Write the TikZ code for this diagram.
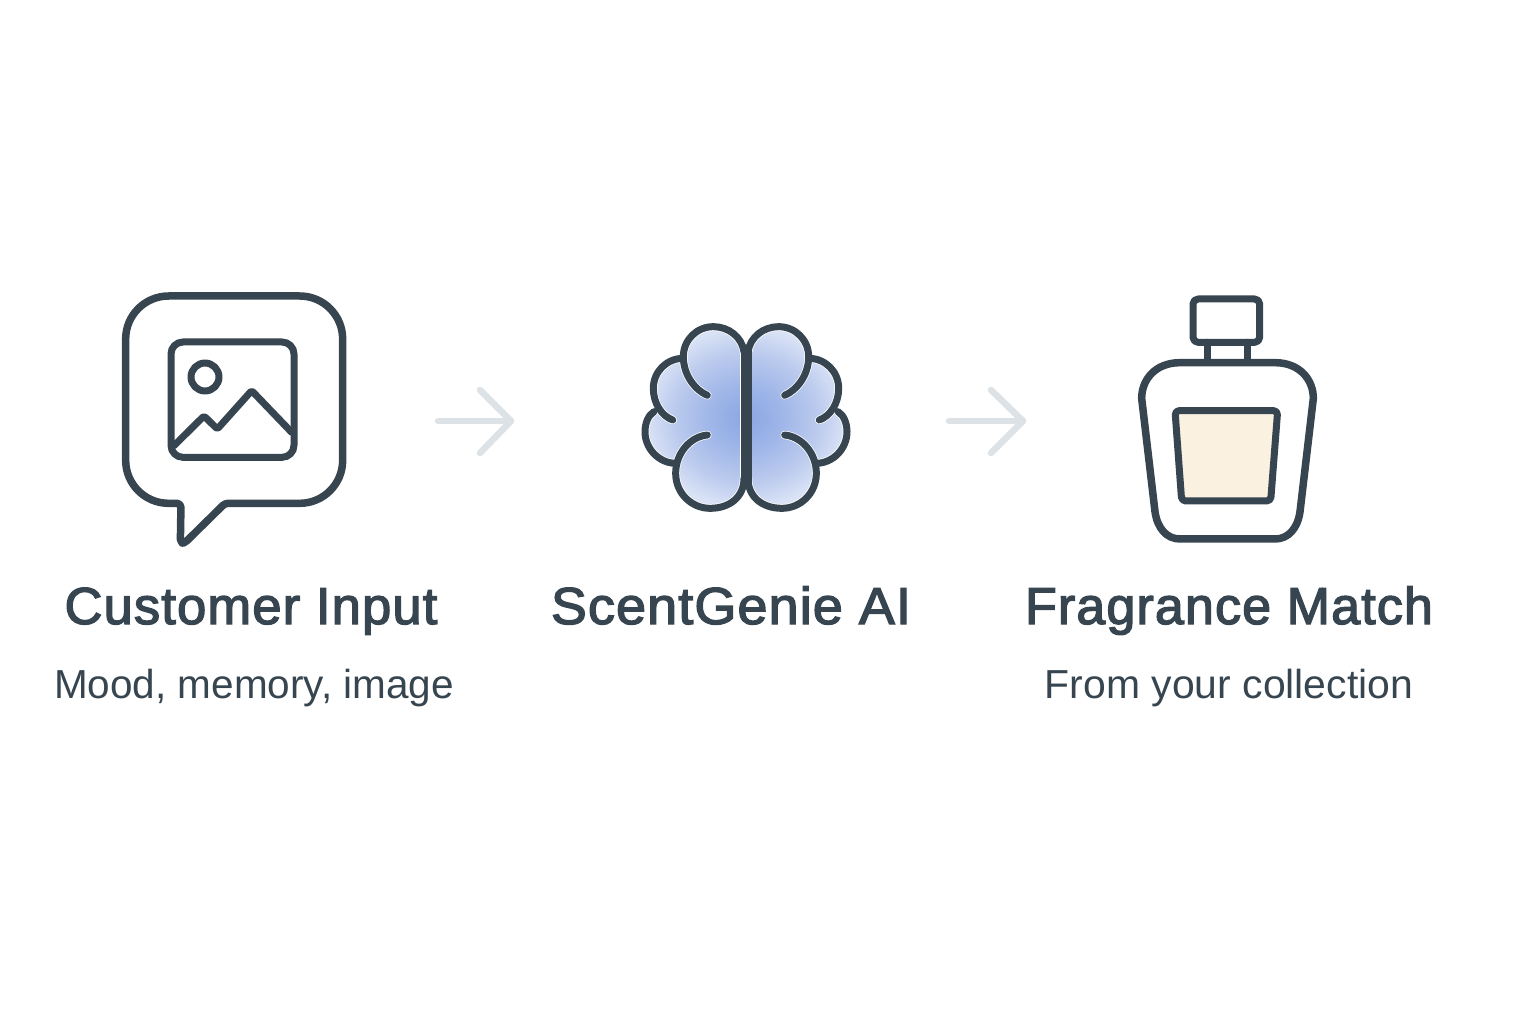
\documentclass[tikz,border=0pt]{standalone}
\usepackage{fontspec}
\setmainfont{Liberation Sans}
\newfontfamily\titlefont[FakeBold=2.6,LetterSpace=2.2]{Liberation Sans}
\newfontfamily\subfont{Liberation Sans}
\definecolor{ink}{HTML}{36454F}
\definecolor{pale}{HTML}{DCE2E6}
\definecolor{cream}{HTML}{FBF1E0}
\definecolor{bluea}{HTML}{8AA6E3}
\definecolor{blueb}{HTML}{9FB6E8}
\definecolor{bluec}{HTML}{BCCBEE}
\definecolor{blued}{HTML}{DAE3F6}
\pgfdeclareradialshading{brainglow}{\pgfpointorigin}{
  color(0bp)=(bluea); color(9bp)=(blueb); color(18bp)=(bluec); color(25bp)=(blued); color(50bp)=(blued)}
\tikzset{
  iconline/.style={draw=ink,line width=#1,line join=round,line cap=round},
  iconline/.default=7pt,
  halo/.style={draw=white,line width=8.5pt,line cap=round},
  flowarrow/.style={draw=pale,line width=6.5pt,line cap=round,line join=round},
  title/.style={text=ink,anchor=base,inner sep=0pt,font=\titlefont\fontsize{52}{56}\selectfont},
  subtitle/.style={text=ink,anchor=base,inner sep=0pt,font=\subfont\fontsize{40.5}{44}\selectfont},
  zoomA/.style={shift={(110,280)},xscale=1/3,yscale=1/3},
  zoomB/.style={shift={(630,310)},xscale=1/3,yscale=1/3},
  zoomC/.style={shift={(1125,285)},xscale=1/3,yscale=1/3},
}
\newcommand{\brainstrokes}[1]{%
  \draw[#1] (342,125) -- (342,520);
  \draw[#1] (342,125) .. controls (335,80) and (295,50) .. (250,50) .. controls (200,50) and (160,90) .. (160,140) .. controls (160,195) and (195,240) .. (232,256);
  \draw[#1] (160,145) .. controls (110,145) and (70,185) .. (70,235) .. controls (70,280) and (95,318) .. (128,330);
  \draw[#1] (72,305) .. controls (55,315) and (45,340) .. (45,365) .. controls (45,415) and (85,458) .. (135,460);
  \draw[#1] (232,375) .. controls (180,380) and (137,430) .. (137,490) .. controls (137,550) and (185,595) .. (240,595) .. controls (300,595) and (342,560) .. (342,505);
}
\begin{document}
\begin{tikzpicture}[x=1pt,y=-1pt]
\useasboundingbox (0,0) rectangle (1536,1024);
% speech bubble
\begin{scope}[zoomA]
  \draw[iconline=7.5pt,rounded corners=43pt] (370,48) -- (698,48) -- (698,670) [rounded corners=3pt] -- (345,670) -- (225,788) [rounded corners=4pt] -- (211,790) -- (213,670) [rounded corners=43pt] -- (47,670) -- (47,48) -- cycle;
  \draw[iconline,rounded corners=12pt] (360,186) -- (552,186) -- (552,532) -- (183,532) -- (183,186) -- cycle;
  \draw[iconline] (285,291) circle[radius=42];
  \draw[iconline,rounded corners=2pt] (192,497) -- (282,408) -- (322,447) -- (425,332) -- (545,457);
\end{scope}
\node[inner sep=0pt] (iconA) at (234,420) {};
% brain
\begin{scope}[zoomB]
  \shade[shading=brainglow]
    (348,100) .. controls (320,70) and (290,50) .. (250,50) .. controls (200,50) and (160,90) .. (160,140) .. controls (110,145) and (70,185) .. (70,235) .. controls (70,260) and (75,290) .. (75,303) .. controls (55,315) and (45,340) .. (45,365) .. controls (45,415) and (85,460) .. (135,460) .. controls (137,550) and (185,595) .. (240,595) .. controls (300,595) and (325,565) .. (348,540)
    .. controls (371,565) and (396,595) .. (456,595) .. controls (511,595) and (559,550) .. (561,460) .. controls (611,460) and (651,415) .. (651,365) .. controls (651,340) and (641,315) .. (621,303) .. controls (621,290) and (626,260) .. (626,235) .. controls (626,185) and (586,145) .. (536,140) .. controls (536,90) and (496,50) .. (446,50) .. controls (406,50) and (376,70) .. (348,100) -- cycle;
  \brainstrokes{halo}
  \begin{scope}[shift={(696,0)},xscale=-1]\brainstrokes{halo}\end{scope}
  \brainstrokes{iconline}
  \begin{scope}[shift={(696,0)},xscale=-1]\brainstrokes{iconline}\end{scope}
\end{scope}
\node[inner sep=0pt] (iconB) at (746,418) {};
% bottle
\begin{scope}[zoomC]
  \draw[iconline,rounded corners=5pt] (204,42) rectangle (404,172);
  \draw[iconline] (248,172) -- (248,232);
  \draw[iconline] (368,172) -- (368,232);
  \draw[iconline=7.5pt] (165,233) -- (450,233) .. controls (525,233) and (565,285) .. (565,340) -- (525,680) .. controls (518,730) and (490,762) .. (450,762) -- (165,762) .. controls (125,762) and (97,730) .. (90,680) -- (50,340) .. controls (50,285) and (90,233) .. (165,233) -- cycle;
  \draw[iconline,fill=cream,rounded corners=4pt] (150,377) -- (458,377) -- (437,648) -- (170,648) -- cycle;
\end{scope}
\node[inner sep=0pt] (iconC) at (1227,420) {};
% arrows
\coordinate (a1s) at (438,421); \coordinate (a1e) at (511,421);
\coordinate (a1t) at (480,390); \coordinate (a1b) at (480,453);
\coordinate (a2s) at (949,421); \coordinate (a2e) at (1023,421);
\coordinate (a2t) at (991,390); \coordinate (a2b) at (991,453);
\draw[flowarrow] (a1s) -- (a1e);
\draw[flowarrow] (a1t) -- (a1e) -- (a1b);
\draw[flowarrow] (a2s) -- (a2e);
\draw[flowarrow] (a2t) -- (a2e) -- (a2b);
% text
\node[title] (t1) at (251,624) {\scalebox{1.01}[1]{Customer Input}};
\node[title] (t2) at (731,624) {\scalebox{1.035}[1]{ScentGenie AI}};
\node[title] (t3) at (1229,624) {Fragrance Match};
\node[subtitle] (s1) at (254,698) {Mood, memory, image};
\node[subtitle] (s3) at (1229,698) {\scalebox{1.01}[1]{From your collection}};
\end{tikzpicture}
\end{document}
